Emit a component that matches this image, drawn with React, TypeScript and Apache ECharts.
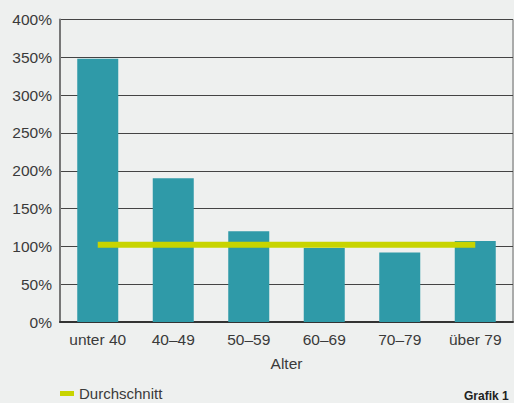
import React, { useEffect, useRef } from "react";
import * as echarts from "echarts";

const categories = ["unter 40", "40–49", "50–59", "60–69", "70–79", "über 79"];
const values = [348, 190, 120, 98, 92, 107];
const average = [102, 102, 102, 102, 102, 102];
const yTicks = { min: 0, max: 400, interval: 50 };

export default function App() {
  const ref = useRef<HTMLDivElement>(null);
  useEffect(() => {
    const chart = echarts.init(ref.current!, null, { renderer: "svg" });
    const font = "'Liberation Sans', Arial, Helvetica, sans-serif";
    chart.setOption({
      animation: false,
      backgroundColor: "#eef0ef",
      textStyle: { fontFamily: font },
      grid: {
        left: 60,
        right: 1,
        top: 19.5,
        bottom: 81,
        show: true,
        borderColor: "#666",
        borderWidth: 1,
        backgroundColor: "transparent",
      },
      legend: {
        data: [{ name: "Durchschnitt", icon: "rect" }],
        left: 55,
        top: 384,
        padding: [2, 5, 2, 5],
        itemWidth: 14,
        itemHeight: 5,
        itemGap: 8,
        textStyle: { fontFamily: font, fontSize: 15, color: "#3a3a3a" },
      },
      graphic: [
        {
          type: "text",
          left: 464,
          top: 390,
          style: { text: "Grafik 1", font: "bold 12px " + font, fill: "#222" },
        },
      ],
      xAxis: {
        type: "category",
        data: categories,
        name: "Alter",
        nameLocation: "middle",
        nameGap: 33,
        nameTextStyle: { fontSize: 15.5, color: "#3a3a3a", fontFamily: font },
        axisLine: { show: true, lineStyle: { color: "#333", width: 2 } },
        axisTick: { show: false },
        axisLabel: { fontSize: 15.5, color: "#3a3a3a", margin: 9, fontFamily: font },
        splitLine: { show: false },
      },
      yAxis: {
        type: "value",
        min: yTicks.min,
        max: yTicks.max,
        interval: yTicks.interval,
        axisLine: { show: true, lineStyle: { color: "#777", width: 2 } },
        axisTick: { show: false },
        axisLabel: {
          formatter: "{value}%",
          fontSize: 15.5,
          color: "#3a3a3a",
          margin: 8,
          fontFamily: font,
        },
        splitLine: { show: true, lineStyle: { color: "#444", width: 1 } },
      },
      series: [
        {
          type: "bar",
          name: "Wert",
          data: values,
          barWidth: 41,
          itemStyle: { color: "#2f9aa8" },
        },
        {
          type: "line",
          name: "Durchschnitt",
          data: average,
          symbol: "none",
          lineStyle: { color: "#c8d400", width: 6 },
          itemStyle: { color: "#c8d400" },
          z: 5,
        },
      ],
    });
    return () => chart.dispose();
  }, []);
  return (
    <div
      ref={ref}
      style={{ position: "fixed", left: 0, top: 0, width: 514, height: 403 }}
    />
  );
}
